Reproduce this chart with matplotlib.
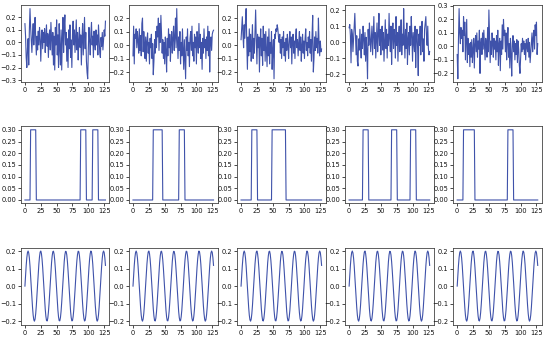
"""Grid of 5 sample signals: noise (top), square pulses (middle), sine (bottom)."""

import matplotlib

matplotlib.use("Agg")
import matplotlib.pyplot as plt
import numpy as np
from matplotlib.ticker import MultipleLocator

N = 128
X = np.arange(N)

NOISE = [
    [0.15, 0.05, -0.12, -0.20, -0.05, 0.03, -0.18, 0.10, 0.27, 0.12,
     0.02, -0.08, 0.06, 0.15, -0.02, 0.08, 0.20, 0.03, -0.10, 0.05,
     -0.06, 0.09, -0.02, 0.12, 0.04, -0.15, 0.02, 0.10, -0.05, 0.08,
     0.00, 0.11, -0.08, 0.06, 0.14, -0.03, 0.07, -0.12, 0.04, 0.10,
     -0.06, 0.16, 0.02, -0.10, 0.08, -0.18, 0.05, -0.22, 0.12, -0.02,
     0.18, -0.10, 0.06, -0.20, 0.15, -0.05, -0.18, 0.10, -0.22, 0.04,
     0.20, -0.08, 0.12, 0.22, -0.02, 0.08, -0.15, 0.03, -0.20, 0.10,
     -0.05, 0.14, -0.12, 0.02, -0.20, 0.06, 0.17, -0.02, 0.10, -0.08,
     0.05, 0.18, -0.06, 0.08, -0.14, 0.02, 0.12, -0.04, 0.06, -0.18,
     0.03, 0.15, -0.10, 0.05, 0.20, -0.05, 0.08, -0.15, -0.24, -0.29,
     -0.05, 0.12, 0.02, -0.10, 0.07, 0.16, -0.02, 0.05, -0.12, 0.09,
     0.00, -0.06, 0.10, -0.02, 0.06, -0.10, 0.14, 0.02, -0.08, -0.12,
     0.04, -0.03, 0.08, -0.06, 0.02, 0.10, 0.05, 0.17],
    [-0.08, 0.14, -0.14, 0.08, 0.05, 0.12, -0.02, 0.10, 0.03, -0.06,
     0.12, -0.04, 0.07, -0.08, 0.16, 0.20, -0.05, 0.10, 0.02, -0.10,
     0.06, -0.12, 0.03, 0.09, -0.06, 0.02, -0.14, 0.05, -0.02, 0.08,
     -0.10, 0.01, -0.22, -0.12, 0.04, -0.06, 0.10, -0.02, 0.14, 0.06,
     0.20, -0.04, 0.16, 0.02, 0.22, 0.08, -0.06, 0.04, -0.10, 0.02,
     -0.14, 0.06, -0.04, -0.20, 0.05, -0.08, 0.12, -0.02, 0.08, -0.12,
     0.02, 0.10, -0.06, 0.05, 0.14, -0.04, 0.06, 0.20, -0.02, 0.27,
     0.04, -0.10, 0.06, -0.04, 0.10, -0.14, 0.02, -0.08, 0.12, -0.02,
     -0.18, 0.04, -0.10, -0.25, 0.06, -0.04, 0.12, -0.08, 0.02, -0.16,
     0.05, 0.10, -0.04, 0.14, -0.08, 0.02, -0.12, 0.08, -0.02, 0.06,
     -0.14, 0.10, 0.04, -0.06, 0.16, -0.02, 0.08, -0.10, 0.02, -0.18,
     0.05, -0.06, 0.12, -0.02, 0.04, -0.10, 0.06, -0.04, 0.14, -0.08,
     0.10, -0.20, 0.02, 0.06, -0.04, 0.08, 0.10, 0.11],
    [0.04, 0.12, 0.21, 0.08, -0.02, 0.15, 0.05, 0.18, 0.27, 0.02,
     -0.18, 0.06, -0.08, 0.12, -0.05, 0.08, -0.12, 0.03, 0.15, -0.10,
     0.05, -0.06, 0.10, 0.26, 0.04, -0.14, 0.08, -0.02, 0.06, -0.20,
     0.02, 0.12, -0.08, 0.05, -0.15, 0.14, -0.04, 0.08, -0.12, 0.10,
     -0.02, -0.16, 0.06, -0.08, 0.12, -0.14, 0.02, -0.06, 0.10, -0.18,
     -0.04, 0.04, -0.25, 0.08, 0.05, 0.12, 0.10, 0.15, 0.12, 0.06,
     0.02, 0.08, -0.06, 0.04, -0.10, 0.06, -0.02, 0.10, -0.08, 0.02,
     -0.12, 0.05, -0.04, 0.08, 0.00, -0.10, 0.04, 0.10, -0.02, 0.06,
     -0.14, 0.02, 0.08, -0.06, 0.03, -0.10, 0.06, 0.12, -0.02, 0.04,
     -0.08, 0.02, 0.10, -0.04, 0.06, -0.12, 0.00, 0.08, -0.06, 0.03,
     -0.10, 0.05, 0.12, -0.04, 0.02, -0.08, 0.06, -0.02, 0.10, -0.06,
     0.04, -0.12, 0.08, 0.22, -0.20, -0.10, 0.06, -0.04, 0.10, -0.02,
     0.05, -0.06, 0.20, 0.02, -0.08, 0.03, -0.05, -0.03],
    [0.09, 0.11, 0.04, -0.13, 0.08, 0.05, -0.06, 0.02, 0.10, 0.18,
     0.06, -0.08, 0.04, -0.12, -0.15, 0.02, -0.05, 0.08, -0.02, -0.10,
     0.05, -0.04, 0.10, 0.02, -0.08, 0.06, -0.12, 0.03, -0.06, -0.23,
     0.08, -0.02, 0.12, 0.04, -0.06, 0.02, 0.10, -0.08, 0.05, 0.16,
     -0.04, 0.06, -0.10, 0.02, 0.12, -0.06, 0.04, 0.18, -0.02, 0.08,
     -0.08, 0.03, 0.10, -0.05, 0.06, -0.12, 0.02, 0.14, -0.04, 0.08,
     -0.10, 0.05, -0.02, 0.18, 0.02, -0.06, 0.10, -0.14, 0.04, 0.12,
     -0.04, 0.08, 0.02, -0.10, 0.16, -0.02, 0.06, -0.12, 0.04, 0.10,
     -0.06, 0.02, 0.14, -0.08, 0.05, -0.02, 0.21, 0.04, -0.10, 0.08,
     -0.04, 0.12, -0.14, 0.02, 0.06, -0.08, 0.10, -0.02, 0.16, 0.04,
     -0.12, 0.06, 0.00, -0.06, 0.10, -0.16, 0.02, 0.08, -0.04, -0.21,
     0.05, -0.02, 0.10, -0.08, 0.04, 0.13, -0.06, 0.02, -0.12, 0.08,
     0.12, 0.16, 0.04, -0.02, 0.10, -0.04, -0.08, -0.06],
    [-0.06, -0.24, 0.05, 0.28, 0.10, 0.02, 0.14, 0.06, 0.12, -0.04,
     0.22, 0.08, 0.18, -0.10, 0.04, 0.20, -0.12, 0.06, -0.06, 0.02,
     -0.15, 0.03, -0.08, 0.05, -0.12, -0.02, 0.06, -0.16, 0.02, 0.08,
     -0.04, 0.10, -0.08, 0.04, -0.02, 0.12, -0.20, 0.02, 0.06, -0.06,
     0.10, -0.02, 0.12, 0.00, -0.10, 0.06, 0.02, -0.08, 0.14, -0.04,
     0.27, 0.08, -0.12, 0.04, -0.06, 0.10, 0.02, -0.08, 0.06, -0.02,
     0.04, -0.10, 0.08, -0.04, 0.12, -0.14, 0.02, 0.06, -0.18, 0.04,
     -0.06, 0.16, -0.02, 0.20, 0.08, 0.12, -0.04, 0.10, -0.10, 0.04,
     0.14, -0.08, 0.02, -0.16, 0.06, -0.06, -0.22, 0.02, 0.08, -0.04,
     0.04, -0.10, 0.02, -0.06, 0.05, -0.12, 0.04, -0.02, -0.14, -0.20,
     -0.08, 0.02, -0.04, 0.06, -0.02, 0.04, -0.06, 0.02, -0.10, 0.05,
     0.00, -0.04, 0.06, -0.08, 0.03, -0.12, -0.05, 0.02, 0.10, -0.04,
     0.06, 0.12, -0.02, 0.16, 0.08, 0.18, -0.06, 0.02],
]

# (start, end) sample index of each 0.3 pulse, per panel
PULSE_HEIGHT = 0.3
PULSES = [
    [(9, 18), (88, 97), (107, 116)],
    [(32, 47), (73, 82)],
    [(17, 26), (49, 71)],
    [(22, 31), (67, 76), (97, 106)],
    [(10, 28), (80, 89)],
]

SINE = [
    0.000, 0.062, 0.118, 0.163, 0.191, 0.200, 0.189, 0.160, 0.114, 0.058,
    -0.005, -0.067, -0.122, -0.166, -0.192, -0.200, -0.188, -0.157, -0.110, -0.053,
    0.010, 0.072, 0.126, 0.168, 0.194, 0.200, 0.186, 0.154, 0.106, 0.048,
    -0.015, -0.076, -0.130, -0.171, -0.195, -0.199, -0.184, -0.150, -0.102, -0.043,
    0.020, 0.081, 0.134, 0.173, 0.196, 0.199, 0.182, 0.147, 0.098, 0.038,
    -0.025, -0.085, -0.137, -0.176, -0.197, -0.198, -0.180, -0.144, -0.093, -0.033,
    0.030, 0.090, 0.141, 0.178, 0.198, 0.197, 0.178, 0.140, 0.089, 0.029,
    -0.034, -0.094, -0.144, -0.180, -0.198, -0.197, -0.175, -0.137, -0.084, -0.024,
    0.039, 0.098, 0.148, 0.182, 0.199, 0.196, 0.173, 0.133, 0.080, 0.019,
    -0.044, -0.103, -0.151, -0.184, -0.199, -0.195, -0.170, -0.129, -0.075, -0.014,
    0.049, 0.107, 0.154, 0.186, 0.200, 0.193, 0.168, 0.125, 0.071, 0.009,
    -0.054, -0.111, -0.157, -0.188, -0.200, -0.192, -0.165, -0.121, -0.066, -0.004,
    0.058, 0.115, 0.160, 0.190, 0.200, 0.191, 0.162, 0.118,
]

LINE = "#3f52aa"
Y_STEPS = (0.1, 0.05, 0.1)  # y tick spacing per row


def _pulse_train(spans):
    y = np.zeros(N)
    for start, end in spans:
        y[start:end] = PULSE_HEIGHT
    return y


def main() -> None:
    fig, axes = plt.subplots(3, 5, figsize=(5.5, 3.4), dpi=100)
    fig.subplots_adjust(left=0.038, right=0.985, top=0.985, bottom=0.045,
                        wspace=0.22, hspace=0.57)

    for col in range(5):
        axes[0, col].plot(X, NOISE[col], color=LINE, lw=0.8)
        axes[1, col].plot(X, _pulse_train(PULSES[col]), color=LINE, lw=0.8)
        axes[2, col].plot(X, SINE, color=LINE, lw=0.8)

    for row in range(3):
        for ax in axes[row]:
            ax.xaxis.set_major_locator(MultipleLocator(25))
            ax.yaxis.set_major_locator(MultipleLocator(Y_STEPS[row]))
            ax.tick_params(labelsize=4.8, length=2, width=0.5, pad=1.5,
                           labelcolor="#111111")
            for sp in ax.spines.values():
                sp.set_linewidth(0.6)
                sp.set_color("#444444")

    fig.savefig("out.png", dpi=100)


if __name__ == "__main__":
    main()
